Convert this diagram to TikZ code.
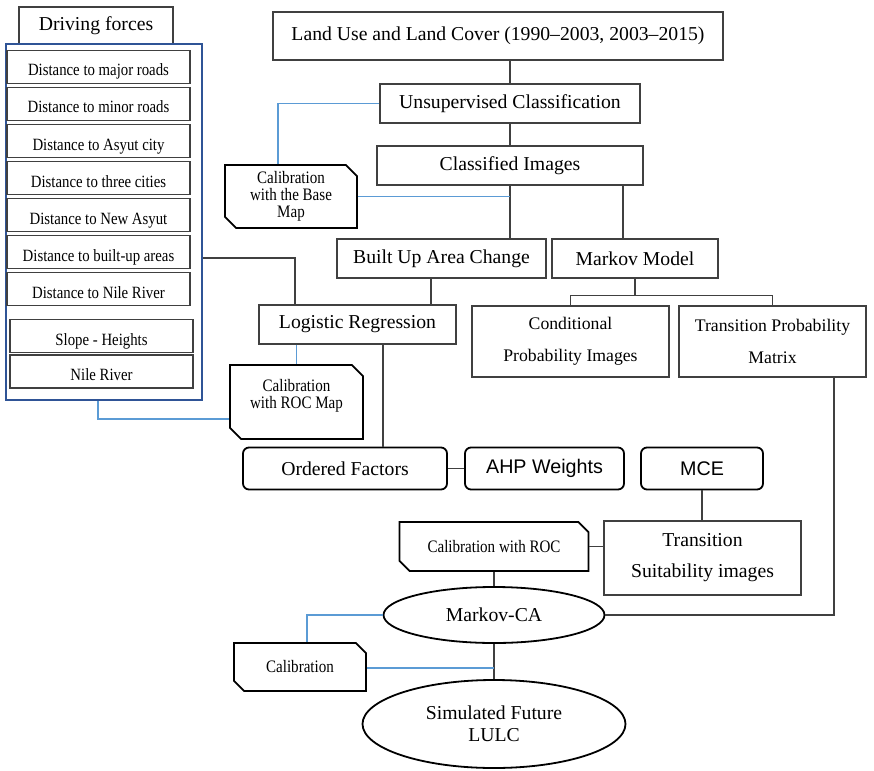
\documentclass[tikz,border=0pt]{standalone}
\usepackage{fontspec}
\setmainfont{Liberation Serif}
\newfontfamily\arialfont{Liberation Sans}
\newfontfamily\narrowfont[FakeStretch=0.86]{Liberation Serif}
\usepackage{tikz}
\usetikzlibrary{shapes.geometric,shapes.misc}

\definecolor{framebl}{RGB}{47,84,150}
\definecolor{linkbl}{RGB}{91,155,213}
\definecolor{edgegr}{RGB}{64,64,64}

\tikzset{
  box/.style={draw=edgegr, line width=1.1pt, minimum height=39pt, inner sep=2pt,
    align=center, font=\fontsize{19.7}{22}\selectfont},
  factor/.style={draw=edgegr, line width=1.1pt, minimum width=183pt, minimum height=33pt,
    inner sep=1pt, text height=20pt, text depth=2pt, font=\narrowfont\fontsize{17.2}{18}\selectfont},
  roundbox/.style={draw=black, line width=1.8pt, rounded corners=6pt, minimum height=42pt,
    font=\fontsize{19.7}{22}\selectfont},
  calib/.style={chamfered rectangle, chamfered rectangle corners={north east,south west},
    chamfered rectangle xsep=8pt, draw=black, line width=1.8pt, inner sep=1pt,
    align=center, font=\narrowfont\fontsize{17.5}{17}\selectfont},
  oval/.style={ellipse, draw=black, line width=1.8pt, inner sep=0pt, align=center,
    font=\fontsize{19.7}{22}\selectfont},
  link/.style={draw=edgegr, line width=1.1pt},
  calink/.style={draw=linkbl, line width=1.1pt}
}

\begin{document}
\begin{tikzpicture}[x=1pt,y=-1pt]
\useasboundingbox (0,0) rectangle (874,770);
% driving forces
\node[box, minimum width=154pt, minimum height=37pt] (drv) at (96,25.5) {Driving forces};
\node[draw=framebl, line width=2pt, minimum width=196pt, minimum height=356pt] (frame) at (104,222) {};
\foreach \name/\txt [count=\i] in {dmajor/Distance to major roads, dminor/Distance to minor roads,
    dasyut/Distance to Asyut city, dthree/Distance to three cities, dnew/Distance to New Asyut,
    dbuilt/Distance to built-up areas, dnile/Distance to Nile River}
  \node[factor] (\name) at (98.5,30+37*\i) {\txt};
\node[factor] (slope) at (101.5,336) {Slope - Heights};
\node[factor] (nile) at (101.5,371.5) {Nile River};

% classification chain
\node[box, minimum width=450pt, minimum height=48pt] (landuse) at (498,36) {Land Use and Land Cover (1990--2003, 2003--2015)};
\node[box, minimum width=260pt] (unsup) at (510,103.5) {Unsupervised Classification};
\node[box, minimum width=266pt] (classif) at (510,165.5) {Classified Images};
\node[calib, minimum width=132pt, minimum height=63pt] (cbase) at (291,196.5) {Calibration\\with the Base\\Map};
\node[box, minimum width=209pt] (builtup) at (441.5,258.5) {Built Up Area Change};
\node[box, minimum width=166pt] (markov) at (635,258.5) {Markov Model};
\node[box, minimum width=197pt] (logit) at (357.5,324.5) {Logistic Regression};
\node[box, minimum width=197pt, minimum height=71pt, font=\fontsize{17.7}{32}\selectfont] (condprob) at (570.5,341.5) {Conditional\\Probability Images};
\node[box, minimum width=187pt, minimum height=71pt, font=\fontsize{17.7}{32}\selectfont] (tpm) at (772.5,341.5) {Transition Probability\\Matrix};
\node[calib, minimum width=133pt, minimum height=74pt] (croc) at (296.5,402) {Calibration\\with ROC Map\\\mbox{}};

% factors and weights
\node[roundbox, minimum width=204pt] (ordered) at (345,468.5) {Ordered Factors};
\node[roundbox, minimum width=159pt, font=\arialfont\fontsize{19.7}{22}\selectfont] (ahp) at (544.5,468.5) {AHP Weights};
\node[roundbox, minimum width=122pt, font=\arialfont\fontsize{19.7}{22}\selectfont] (mce) at (702,468.5) {MCE};
\node[box, minimum width=197pt, minimum height=74pt, font=\fontsize{19.7}{31}\selectfont] (tsuit) at (702.5,558) {Transition\\Suitability images};
\node[calib, minimum width=189pt, minimum height=49pt] (croc2) at (494,546.5) {Calibration with ROC};

% simulation
\node[oval, minimum width=221pt, minimum height=56pt] (mca) at (494,615) {Markov-CA};
\node[calib, minimum width=132pt, minimum height=48pt] (calib) at (300,667) {Calibration};
\node[oval, minimum width=263pt, minimum height=88pt] (sim) at (494,724) {Simulated Future\\LULC};

% connectors
\draw[link] (landuse.south -| unsup.north) -- (unsup.north);
\draw[link] (unsup.south) -- (classif.north);
\draw[link] (classif.south) -- (classif.south |- builtup.north);
\draw[link] ([xshift=113pt]classif.south) -- ([xshift=113pt]classif.south |- markov.north);
\draw[link] ([xshift=-10.5pt]builtup.south) -- ([xshift=-10.5pt]builtup.south |- logit.north);
\draw[link] ([yshift=-6pt]dbuilt.east -| frame.east) -| ([xshift=-62.5pt]logit.north);
\draw[link] (markov.south) -- ++(0,17) coordinate (mkfork);
\draw[link] (condprob.north) |- (mkfork) -| (tpm.north);
\draw[link] ([xshift=25.5pt]logit.south) -- ([xshift=25.5pt]logit.south |- ordered.north);
\draw[link] (ordered.east) -- (ahp.west);
\draw[link] (mce.south) -- (mce.south |- tsuit.north);
\draw[link] (croc2.east) -- (croc2.east -| tsuit.west);
\draw[link] (croc2.south) -- (mca.north);
\draw[link] ([xshift=61.5pt]tpm.south) |- (mca.east);
\draw[link] (mca.south) -- (sim.north);

% calibration links
\draw[calink] ([xshift=-13pt]cbase.north) |- (unsup.west);
\draw[calink] (cbase.east) -- (cbase.east -| classif.south);
\draw[calink] (croc.north |- logit.south) -- (croc.north);
\draw[calink] ([xshift=-6pt]frame.south) |- ([yshift=-17pt]croc.west);
\draw[calink] (mca.west) -| ([xshift=7pt]calib.north);
\draw[calink] ([yshift=-1pt]calib.east) -- ([yshift=-1pt]calib.east -| mca.south);
\end{tikzpicture}
\end{document}
